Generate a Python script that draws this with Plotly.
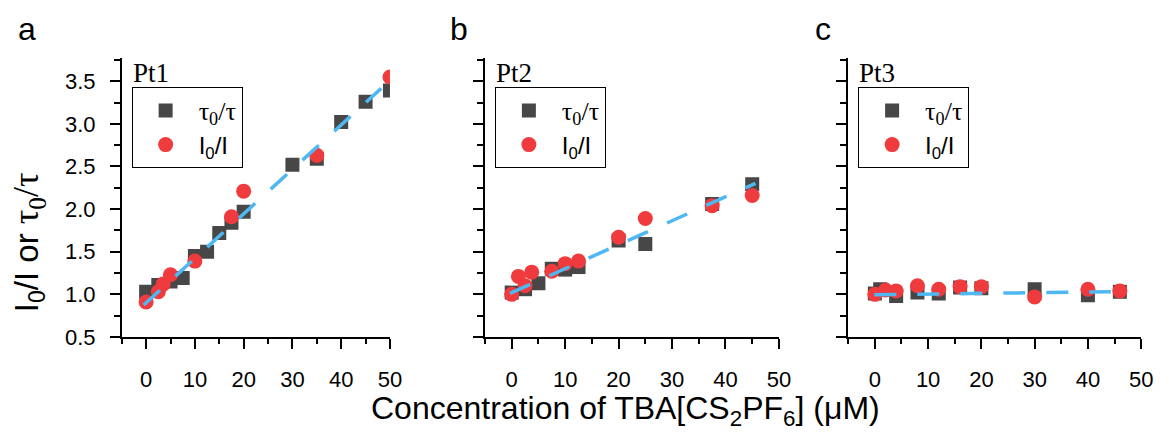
import numpy as np
import plotly.graph_objects as go

# ---- data -------------------------------------------------------------
# Pt1
pt1_tau_x = [0, 2.5, 5, 7.5, 10, 12.5, 15, 17.5, 20, 30, 35, 40, 45, 50]
pt1_tau_y = [1.03, 1.11, 1.15, 1.19, 1.45, 1.50, 1.72, 1.84, 1.97, 2.52, 2.59, 3.02, 3.26, 3.39]
pt1_int_x = [0, 2.5, 3.5, 5, 10, 17.5, 20, 35, 50]
pt1_int_y = [0.91, 1.03, 1.12, 1.23, 1.39, 1.91, 2.21, 2.63, 3.55]

# Pt2
pt2_tau_x = [0, 2.5, 5, 7.5, 10, 12.5, 20, 25, 37.5, 45]
pt2_tau_y = [1.02, 1.06, 1.13, 1.30, 1.29, 1.32, 1.63, 1.59, 2.06, 2.29]
pt2_int_x = [0, 1.25, 2.5, 3.75, 7.5, 10, 12.5, 20, 25, 37.5, 45]
pt2_int_y = [1.00, 1.21, 1.10, 1.26, 1.27, 1.36, 1.39, 1.67, 1.89, 2.04, 2.16]

# Pt3
pt3_tau_x = [0, 1, 4, 8, 12, 16, 20, 30, 40, 46]
pt3_tau_y = [1.01, 1.06, 0.98, 1.02, 1.01, 1.08, 1.07, 1.06, 0.99, 1.03]
pt3_int_x = [0, 2, 4, 8, 12, 16, 20, 30, 40, 46]
pt3_int_y = [1.00, 1.05, 1.04, 1.10, 1.06, 1.09, 1.09, 0.97, 1.06, 1.04]

# linear fits: intercept, slope, x-span of the drawn line
fit_intercept = [0.90, 1.02, 0.995]
fit_slope = [0.0522, 0.0281, 0.0008]
fit_x_start = [-0.5, -0.3, -0.1]
fit_x_end = [48.2, 45.6, 44.3]

panel_names = ["Pt1", "Pt2", "Pt3"]
panel_letters = ["a", "b", "c"]
x_ticks = [0, 10, 20, 30, 40, 50]
y_ticks = [0.5, 1.0, 1.5, 2.0, 2.5, 3.0, 3.5]

# ---- styling ----------------------------------------------------------
W, H = 1170, 432
SQ_COLOR = "#474747"
DOT_COLOR = "#EF3B3E"
FIT_COLOR = "#4DB8F2"
SANS = "Liberation Sans, Arial, sans-serif"
SERIF = "Liberation Serif, Times New Roman, serif"

# plot-area extents in pixels (left, right) and (top, bottom)
x_px = [(123, 394), (490, 787), (857, 1153)]
letter_px = [16, 453, 821]
y_top, y_bot = 60, 347.4

series = [
    (pt1_tau_x, pt1_tau_y, pt1_int_x, pt1_int_y),
    (pt2_tau_x, pt2_tau_y, pt2_int_x, pt2_int_y),
    (pt3_tau_x, pt3_tau_y, pt3_int_x, pt3_int_y),
]

fig = go.Figure()
layout = dict(
    width=W, height=H,
    margin=dict(l=0, r=0, t=0, b=0),
    paper_bgcolor="white", plot_bgcolor="white",
    showlegend=True,
    annotations=[],
)

tau_label = '<span style="font-family:Liberation Serif, Times New Roman, serif;font-size:26px">τ<sub>0</sub>/τ</span>'
int_label = "I<sub>0</sub>/I"

for i in range(3):
    sfx = "" if i == 0 else str(i + 1)
    xa, ya = "x" + sfx, "y" + sfx
    leg = "legend" + sfx
    tx, ty, ix, iy = series[i]

    fig.add_trace(go.Scatter(
        x=tx, y=ty, mode="markers", xaxis=xa, yaxis=ya, legend=leg,
        name=tau_label,
        marker=dict(symbol="square", size=14, color=SQ_COLOR, line=dict(width=0)),
    ))
    fig.add_trace(go.Scatter(
        x=ix, y=iy, mode="markers", xaxis=xa, yaxis=ya, legend=leg,
        name=int_label,
        marker=dict(symbol="circle", size=15, color=DOT_COLOR, line=dict(width=0)),
    ))
    fx = np.array([fit_x_start[i], fit_x_end[i]])
    fy = fit_intercept[i] + fit_slope[i] * fx
    fig.add_trace(go.Scatter(
        x=fx, y=fy, mode="lines", xaxis=xa, yaxis=ya, showlegend=False,
        line=dict(color=FIT_COLOR, width=3.5, dash="22px,21px"),
    ))

    x0, x1 = x_px[i]
    layout["xaxis" + sfx] = dict(
        domain=[x0 / W, x1 / W], anchor=ya, range=[-5, 50],
        tickvals=x_ticks, ticks="outside", ticklen=10, tickwidth=1.6,
        tickcolor="black", showline=True, linecolor="black", linewidth=1.6,
        showgrid=False, zeroline=False, ticklabelstandoff=12,
        minor=dict(tick0=0, dtick=5, ticks="outside", ticklen=5,
                   tickwidth=1.6, tickcolor="black", showgrid=False),
        tickfont=dict(family=SANS, size=22, color="black"),
    )
    layout["yaxis" + sfx] = dict(
        domain=[1 - y_bot / H, 1 - y_top / H], anchor=xa, range=[0.5, 3.77],
        tickvals=y_ticks, tickformat=".1f", ticks="outside", ticklen=10,
        tickwidth=1.6, tickcolor="black", showline=True, linecolor="black",
        linewidth=1.6, showgrid=False, zeroline=False,
        showticklabels=(i == 0), ticklabelstandoff=10,
        minor=dict(tick0=0.5, dtick=0.25, ticks="outside", ticklen=6,
                   tickwidth=1.6, tickcolor="black", showgrid=False),
        tickfont=dict(family=SANS, size=22, color="black"),
    )
    layout[leg] = dict(
        x=(x0 + 10) / W, y=1 - 90 / H, xanchor="left", yanchor="top",
        xref="paper", yref="paper",
        bordercolor="black", borderwidth=1, bgcolor="rgba(255,255,255,0)",
        font=dict(family=SANS, size=24, color="black"),
        traceorder="normal", itemwidth=56, tracegroupgap=0,
    )
    layout["annotations"].append(dict(
        x=(x0 + 9) / W, y=1 - 58 / H, xref="paper", yref="paper",
        xanchor="left", yanchor="top", showarrow=False,
        text=panel_names[i], font=dict(family=SERIF, size=27, color="black"),
    ))
    layout["annotations"].append(dict(
        x=letter_px[i] / W, y=1 - 9 / H, xref="paper", yref="paper",
        xanchor="left", yanchor="top", showarrow=False,
        text=panel_letters[i], font=dict(family=SANS, size=32, color="black"),
    ))

# shared axis titles
layout["annotations"].append(dict(
    x=632 / W, y=1 - 423 / H, xref="paper", yref="paper", xanchor="center",
    yanchor="middle", showarrow=False,
    text="Concentration of TBA[CS<sub>2</sub>PF<sub>6</sub>] (μM)",
    font=dict(family=SANS, size=32, color="black"),
))
layout["annotations"].append(dict(
    x=29 / W, y=1 - 250 / H, xref="paper", yref="paper", xanchor="center",
    yanchor="middle", showarrow=False, textangle=-90,
    text='I<sub>0</sub>/I or <span style="font-family:Liberation Serif, Times New Roman, serif;font-size:36px">τ<sub>0</sub>/τ</span>',
    font=dict(family=SANS, size=33, color="black"),
))

fig.update_layout(**layout)
fig.write_html("out.html")
